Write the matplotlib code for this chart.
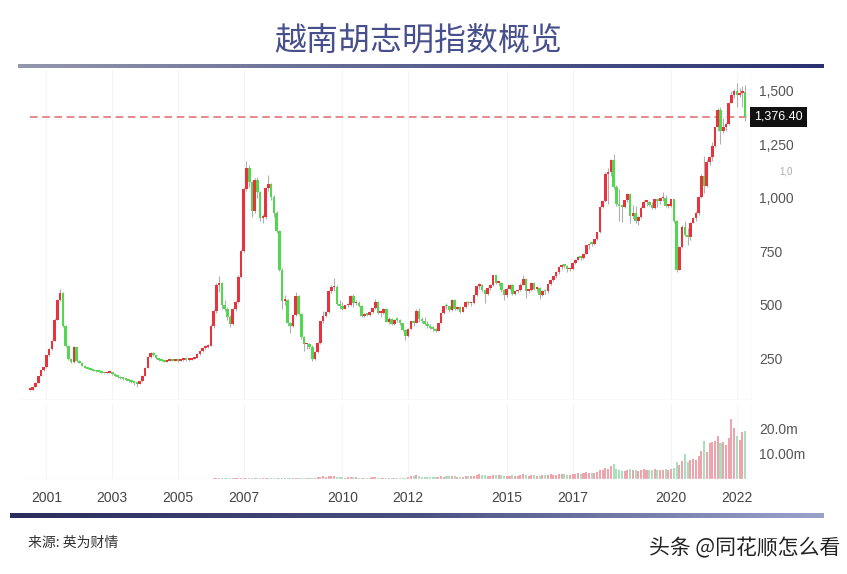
import numpy as np
import pandas as pd
import matplotlib
matplotlib.use("Agg")
import matplotlib.pyplot as plt
from matplotlib.colors import LinearSegmentedColormap
from matplotlib.transforms import Bbox, TransformedBbox, blended_transform_factory

plt.rcParams['font.family'] = ['Noto Sans CJK SC', 'DejaVu Sans']

# monthly candles, Jul 2000 .. Apr 2022
startMonth = "2000-07"

closes = [
    100, 115, 135, 165, 192, 207,
    262, 290, 330, 430, 520, 556, 400, 305, 245, 230, 300, 235,
    228, 215, 205, 200, 195, 190, 188, 185, 180, 178, 180, 183,
    176, 168, 162, 155, 152, 148, 143, 138, 134, 131, 142, 167,
    205, 255, 272, 262, 250, 240, 238, 233, 238, 240, 238, 239,
    236, 240, 243, 240, 242, 246, 252, 268, 282, 296, 302, 307,
    400, 470, 590, 600, 500, 480, 440, 410, 480, 510, 630, 751,
    1041, 1137, 1071, 939, 1081, 1025, 906, 908, 1046, 1065, 1004, 927,
    844, 663, 516, 522, 414, 399, 451, 539, 456, 347, 314, 315,
    303, 245, 280, 321, 421, 448, 467, 562, 580, 584, 504, 494,
    481, 496, 497, 542, 506, 508, 494, 446, 454, 452, 465, 485,
    510, 462, 462, 480, 420, 432, 408, 430, 428, 412, 380, 351,
    388, 423, 415, 472, 433, 422, 410, 400, 392, 388, 377, 414,
    459, 493, 491, 474, 522, 481, 490, 467, 487, 510, 505, 505,
    544, 588, 593, 567, 547, 579, 590, 637, 600, 600, 570, 545,
    575, 592, 551, 562, 569, 593, 621, 563, 568, 600, 574, 579,
    545, 563, 561, 595, 615, 632, 652, 674, 685, 680, 665, 665,
    695, 710, 722, 717, 737, 777, 784, 783, 805, 837, 955, 984,
    1110, 1121, 1174, 1050, 970, 960, 955, 988, 1017, 914, 926, 892,
    910, 951, 980, 980, 967, 949, 992, 985, 996, 1000, 961, 961,
    991, 889, 662, 769, 864, 825, 816, 883, 905, 926, 1003, 1103,
    1056, 1168, 1191, 1239, 1328, 1408, 1310, 1331, 1342, 1444, 1478, 1498,
    1478, 1490, 1492, 1376.40,
]

highs = [
    102, 118, 138, 168, 195, 210,
    265, 295, 335, 435, 525, 571, 560, 405, 310, 250, 305, 302,
    240, 230, 217, 207, 202, 197, 192, 190, 187, 182, 182, 185,
    185, 178, 170, 164, 158, 154, 150, 145, 140, 136, 145, 170,
    208, 258, 280, 278, 265, 252, 243, 240, 240, 243, 242, 242,
    242, 242, 246, 246, 244, 248, 254, 272, 286, 300, 310, 315,
    410, 480, 600, 633, 605, 520, 490, 450, 485, 520, 640, 760,
    1050, 1170, 1150, 1075, 1090, 1095, 1030, 925, 1050, 1106, 1070, 1010,
    935, 850, 670, 545, 525, 420, 455, 560, 545, 460, 355, 320,
    320, 310, 285, 325, 425, 470, 470, 570, 590, 624, 590, 520,
    510, 500, 505, 545, 550, 520, 515, 500, 460, 460, 468, 490,
    525, 515, 470, 483, 482, 440, 438, 432, 440, 432, 415, 385,
    390, 425, 430, 480, 485, 440, 440, 425, 410, 400, 390, 416,
    462, 495, 505, 495, 525, 525, 495, 495, 490, 515, 515, 512,
    550, 592, 602, 597, 568, 582, 595, 640, 640, 605, 605, 575,
    580, 595, 597, 565, 575, 600, 640, 625, 575, 605, 605, 582,
    582, 568, 575, 597, 620, 635, 655, 676, 690, 690, 685, 670,
    698, 712, 725, 726, 740, 780, 785, 790, 807, 840, 960, 985,
    1120, 1140, 1178, 1204, 1060, 1040, 960, 990, 1020, 1020, 965, 960,
    915, 960, 990, 988, 985, 980, 995, 995, 1000, 1025, 1010, 968,
    995, 995, 895, 775, 870, 890, 860, 885, 910, 935, 1005, 1110,
    1195, 1180, 1195, 1260, 1330, 1420, 1425, 1370, 1355, 1445, 1500, 1505,
    1536, 1510, 1520, 1525,
]

lows = [
    98, 100, 114, 134, 164, 190,
    205, 258, 286, 328, 428, 515, 395, 300, 240, 225, 228, 232,
    225, 212, 202, 198, 192, 188, 185, 183, 178, 175, 176, 179,
    172, 165, 158, 150, 148, 142, 138, 132, 125, 115, 129, 140,
    165, 203, 250, 258, 245, 236, 234, 230, 231, 236, 235, 236,
    232, 234, 238, 236, 238, 240, 244, 250, 265, 278, 290, 298,
    305, 390, 460, 560, 480, 470, 430, 395, 405, 470, 505, 625,
    745, 1030, 1050, 910, 930, 1000, 890, 880, 900, 1030, 990, 910,
    835, 655, 480, 500, 400, 366, 395, 445, 450, 340, 285, 290,
    290, 235, 240, 275, 318, 415, 440, 460, 555, 565, 500, 480,
    475, 478, 488, 495, 490, 500, 490, 440, 440, 445, 448, 460,
    480, 455, 440, 455, 418, 410, 405, 405, 420, 405, 375, 335,
    350, 385, 400, 412, 420, 415, 405, 390, 385, 375, 370, 375,
    412, 455, 478, 465, 470, 475, 476, 460, 465, 485, 498, 495,
    503, 540, 575, 560, 505, 545, 570, 588, 595, 585, 560, 520,
    535, 570, 545, 545, 556, 565, 590, 530, 555, 565, 570, 560,
    525, 540, 550, 555, 590, 610, 625, 645, 668, 670, 650, 655,
    662, 690, 708, 710, 715, 735, 760, 775, 780, 800, 835, 950,
    980, 970, 1100, 1040, 960, 890, 888, 950, 980, 880, 900, 880,
    870, 905, 950, 960, 960, 945, 945, 955, 968, 985, 955, 950,
    955, 880, 650, 660, 765, 820, 780, 800, 880, 890, 920, 1000,
    1020, 1050, 1150, 1170, 1235, 1310, 1250, 1300, 1310, 1340, 1440, 1465,
    1425, 1470, 1425, 1360,
]

# volume in millions
volumes = [
    0.01, 0.01, 0.01, 0.01, 0.02, 0.02,
    0.03, 0.03, 0.04, 0.05, 0.06, 0.06, 0.05, 0.04, 0.03, 0.03, 0.04, 0.03,
    0.03, 0.03, 0.02, 0.02, 0.02, 0.02, 0.02, 0.02, 0.02, 0.02, 0.02, 0.02,
    0.02, 0.02, 0.02, 0.02, 0.02, 0.02, 0.02, 0.02, 0.02, 0.02, 0.03, 0.04,
    0.05, 0.06, 0.06, 0.05, 0.04, 0.04, 0.04, 0.04, 0.04, 0.04, 0.04, 0.04,
    0.04, 0.04, 0.05, 0.05, 0.05, 0.05, 0.06, 0.07, 0.08, 0.08, 0.09, 0.1,
    0.15, 0.2, 0.3, 0.3, 0.25, 0.2, 0.2, 0.2, 0.25, 0.25, 0.35, 0.45,
    0.5, 0.55, 0.5, 0.4, 0.45, 0.45, 0.35, 0.3, 0.4, 0.45, 0.4, 0.35,
    0.3, 0.25, 0.2, 0.25, 0.2, 0.2, 0.3, 0.4, 0.3, 0.3, 0.25, 0.25,
    0.3, 0.3, 0.4, 0.6, 0.9, 1.0, 0.9, 1.1, 1.0, 1.0, 0.8, 0.7,
    0.6, 0.5, 0.6, 0.8, 0.7, 0.6, 0.5, 0.5, 0.5, 0.5, 0.5, 0.6,
    0.6, 0.5, 0.4, 0.5, 0.5, 0.4, 0.4, 0.5, 0.5, 0.4, 0.4, 0.4,
    0.8, 1.0, 1.2, 1.4, 1.3, 0.9, 0.8, 0.9, 0.7, 0.6, 0.6, 0.8,
    1.0, 0.9, 1.0, 1.0, 1.2, 1.0, 0.9, 0.9, 0.9, 1.0, 1.1, 1.0,
    1.3, 1.6, 1.8, 1.6, 1.7, 1.3, 1.2, 1.6, 1.7, 1.6, 1.4, 1.3,
    1.2, 1.3, 1.5, 1.2, 1.3, 1.5, 1.8, 1.6, 1.3, 1.4, 1.4, 1.2,
    1.3, 1.4, 1.5, 1.7, 1.8, 1.6, 1.7, 1.8, 1.9, 1.8, 1.7, 1.6,
    1.9, 2.0, 2.2, 2.1, 2.3, 2.6, 2.4, 2.5, 2.4, 2.8, 3.4, 3.6,
    4.5, 4.0, 5.0, 6.0, 4.0, 3.5, 3.0, 3.2, 3.5, 3.8, 3.5, 3.6,
    3.2, 3.6, 3.8, 3.4, 3.6, 3.4, 3.8, 3.6, 3.4, 3.5, 3.8, 3.6,
    4.0, 4.5, 6.5, 5.5, 7.0, 10.0, 6.5, 7.5, 8.0, 7.5, 9.0, 11.0,
    15.0, 10.5, 14.0, 14.5, 15.0, 17.0, 14.0, 14.5, 13.5, 16.0, 23.5, 20.0,
    17.0, 15.5, 18.5, 19.0,
]

firstOpen = 100
priceTicks = [250, 500, 750, 1000, 1250, 1500]
priceTickLabels = ["250", "500", "750", "1,000", "1,250", "1,500"]
volTicks = [10, 20]
volTickLabels = ["10.00m", "20.0m"]
yearLabels = [2001, 2003, 2005, 2007, 2010, 2012, 2015, 2017, 2020, 2022]

title = "越南胡志明指数概览"
source = "来源: 英为财情"
watermark = "头条 @同花顺怎么看"

# -------------------------
# prepare
# -------------------------
months = pd.date_range(startMonth, periods=len(closes), freq="MS")
x = np.arange(len(closes))
c = np.array(closes, dtype=float)
o = np.concatenate([[firstOpen], c[:-1]])
h = np.array(highs, dtype=float)
l = np.array(lows, dtype=float)
v = np.array(volumes, dtype=float)
up = c >= o

upColor = "#e8323c"
downColor = "#52d84e"
volUp = "#eea3ad"
volDown = "#a9dfba"

W, H = 847, 574
fig = plt.figure(figsize=(W / 100, H / 100), dpi=100)

def box(left, top, right, bottom):
    return [left / W, 1 - bottom / H, (right - left) / W, (bottom - top) / H]

ax = fig.add_axes(box(20, 70, 752, 400))
axv = fig.add_axes(box(20, 404, 752, 479), sharex=ax)

# candles
ax.vlines(x, l, h, color="#b0b0b0", linewidth=0.8, zorder=2)
bodyBottom = np.minimum(o, c)
bodyHeight = np.maximum(np.abs(c - o), 8)
ax.bar(x, bodyHeight, bottom=bodyBottom, width=0.95,
       color=np.where(up, upColor, downColor), linewidth=0, zorder=3)

ax.set_xlim(-3.65, 263.5)
ax.set_ylim(54, 1596)

last = c[-1]
ax.hlines(last, x[0], 263.5, color="#e06a6a", linewidth=1.1,
          linestyle=(0, (5, 3)), zorder=1)
tr = blended_transform_factory(ax.transAxes, ax.transData)
ax.text(1.003, last, f"{last:,.2f}", transform=tr, ha="left", va="center",
        color="white", fontsize=9, family="Liberation Sans",
        bbox=dict(boxstyle="square,pad=0.3", fc="#111111", ec="none"))
fig.text(779 / W, 1 - 172 / H, "1,0", color="#aaaaaa", fontsize=7,
         family="Liberation Sans", ha="left", va="center")

ax.yaxis.tick_right()
ax.set_yticks(priceTicks)
ax.set_yticklabels(priceTickLabels)
ax.tick_params(axis="y", length=0, pad=5, labelsize=10, labelcolor="#555555")
ax.tick_params(axis="x", length=0, labelbottom=False)
for lbl in ax.get_yticklabels():
    lbl.set_family("Liberation Sans")

yearPos = [(y - 2000) * 12 - 6 for y in yearLabels]
for axis in (ax, axv):
    for s in axis.spines.values():
        s.set_visible(False)
    for p in yearPos:
        axis.axvline(p, color="#f4f4f4", linewidth=0.8, zorder=0)
ax.axvline(263.5, color="#e8e8e8", linewidth=1)
axv.axvline(263.5, color="#e8e8e8", linewidth=1)
ax.axhline(54, color="#e6e6e6", linewidth=1)

# volume
axv.bar(x, v, width=0.75, color=np.where(up, volUp, volDown), linewidth=0)
axv.axhline(0, color="#eeeeee", linewidth=1)
axv.set_ylim(0, 29.5)
axv.yaxis.tick_right()
axv.set_yticks(volTicks)
axv.set_yticklabels(volTickLabels)
axv.tick_params(axis="y", length=0, pad=5, labelsize=10, labelcolor="#555555")
axv.set_xticks(yearPos)
axv.set_xticklabels([str(y) for y in yearLabels])
axv.tick_params(axis="x", length=0, pad=9, labelsize=10, labelcolor="#444444")
clip = TransformedBbox(Bbox.from_extents(0, 0, 752 / W, 1), fig.transFigure)
for lbl in axv.get_xticklabels() + axv.get_yticklabels():
    lbl.set_family("Liberation Sans")
for lbl in axv.get_xticklabels():
    lbl.set_clip_box(clip)
    lbl.set_clip_on(True)

# decorative gradient bars
grad = np.linspace(0, 1, 256).reshape(1, -1)
barTop = fig.add_axes(box(18, 64, 823, 68))
barTop.imshow(grad, aspect="auto",
              cmap=LinearSegmentedColormap.from_list("t", ["#9498ad", "#5a6090", "#2a3170"]))
barTop.axis("off")
barBot = fig.add_axes(box(10, 513, 823, 518))
barBot.imshow(grad, aspect="auto",
              cmap=LinearSegmentedColormap.from_list("b", ["#2a2d5c", "#4a5082", "#9aa2cc"]))
barBot.axis("off")

fig.text(418 / W, 1 - 42 / H, title, ha="center", va="center",
         fontsize=23, color="#474f8c")
fig.text(28 / W, 1 - 543 / H, source, ha="left", va="center",
         fontsize=10, color="#333333")
fig.text(840 / W, 1 - 548 / H, watermark, ha="right", va="center",
         fontsize=15, color="#222222")

fig.savefig("out.png", dpi=100)
